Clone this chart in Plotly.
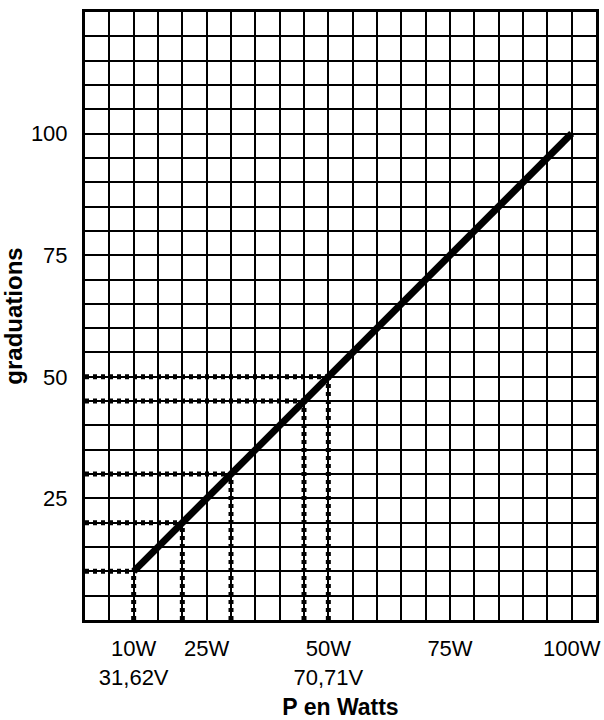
import plotly.graph_objects as go

# Data
power_w = [10, 100]            # watts
graduations = [10, 100]        # graduation readings
ref_levels = [10, 20, 30, 45, 50]   # dotted reference readings

x_tickvals = [10, 25, 50, 75, 100]
x_ticktext = ["10W<br>31,62V", "25W", "50W<br>70,71V", "75W", "100W"]
y_tickvals = [25, 50, 75, 100]
y_ticktext = ["25", "50", "75", "100"]

FONT = "Liberation Sans, Arial, Helvetica, sans-serif"

# dotted reference lines built from ref_levels
dx, dy = [], []
for p in ref_levels:
    dx += [0, p, None, p, p, None]
    dy += [p, p, None, 0, p, None]

fig = go.Figure()
fig.add_trace(go.Scatter(x=dx, y=dy, mode="lines",
                         line=dict(color="black", width=5, dash="4px,4px"),
                         hoverinfo="skip", showlegend=False))
fig.add_trace(go.Scatter(x=power_w, y=graduations, mode="lines",
                         line=dict(color="black", width=7),
                         showlegend=False))

grid_minor = dict(tick0=0, dtick=5, showgrid=True, gridcolor="black",
                  gridwidth=2, ticks="")

fig.update_layout(
    width=604, height=720,
    margin=dict(l=85, r=8, t=12, b=100),
    paper_bgcolor="white", plot_bgcolor="white",
    font=dict(family=FONT, color="black", size=22),
    xaxis=dict(range=[0, 105], tickmode="array", tickvals=x_tickvals,
               ticktext=x_ticktext, showgrid=True, gridcolor="black",
               gridwidth=2, zeroline=False, showline=True, linecolor="black",
               linewidth=3, mirror=True, ticks="", minor=grid_minor,
               tickfont=dict(size=22), ticklabelstandoff=7,
               title=dict(text="P en Watts", font=dict(size=23, weight="bold"),
                          standoff=12),
               automargin=False, fixedrange=True),
    yaxis=dict(range=[0, 125], tickmode="array", tickvals=y_tickvals,
               ticktext=y_ticktext, showgrid=True, gridcolor="black",
               gridwidth=2, zeroline=False, showline=True, linecolor="black",
               linewidth=3, mirror=True, ticks="", minor=grid_minor,
               tickfont=dict(size=22), ticklabelstandoff=10,
               title=dict(text="graduations", font=dict(size=24, weight="bold"),
                          standoff=10),
               automargin=False, fixedrange=True),
)

fig.write_html("out.html",
               config={"displayModeBar": False},
               post_script="document.body.style.margin='0';"
                           "document.body.style.overflow='hidden';")
